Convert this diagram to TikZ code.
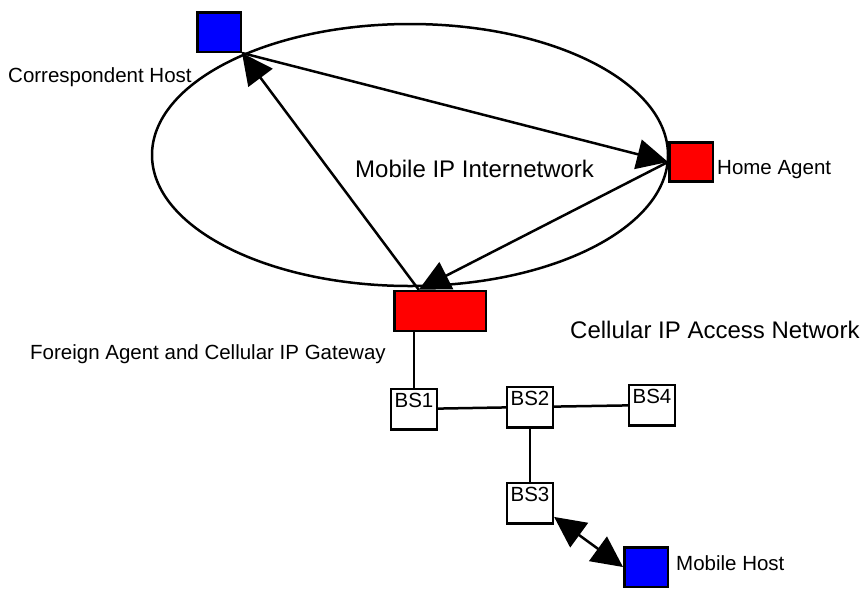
\documentclass[tikz,border=0pt]{standalone}
\usepackage{fontspec}
\setmainfont{Liberation Sans}
\usepackage{tikz}
\usetikzlibrary{arrows.meta}
\definecolor{hostblue}{rgb}{0,0,1}
\definecolor{agentred}{rgb}{1,0,0}
\pgfdeclarelayer{edgelayer}
\pgfdeclarelayer{nodelayer}
\pgfsetlayers{edgelayer,nodelayer,main}
\tikzstyle{host}=[rectangle,fill=hostblue,draw=black,line width=2.5pt,minimum width=43.5pt,minimum height=39.5pt,inner sep=0pt]
\tikzstyle{agent}=[rectangle,fill=agentred,draw=black,line width=2.5pt,minimum width=43.5pt,minimum height=39pt,inner sep=0pt]
\tikzstyle{gateway}=[agent,minimum width=91.5pt,minimum height=40pt]
\tikzstyle{station}=[rectangle,fill=white,draw=black,line width=2.5pt,minimum width=43.5pt,minimum height=39.5pt,inner sep=3.5pt,text height=15pt,text depth=18.5pt,font=\fontsize{20.5}{24}\selectfont]
\tikzstyle{caption}=[inner sep=0pt,font=\fontsize{20.5}{24}\selectfont]
\tikzstyle{bigcaption}=[inner sep=0pt,font=\fontsize{24}{28}\selectfont]
\tikzstyle{link}=[-,line width=2.5pt]
\tikzstyle{inarrow}=[-{Triangle[length=31pt,width=30pt]},line width=2.5pt]
\tikzstyle{bothways}=[{Triangle[length=31pt,width=30pt]}-{Triangle[length=31pt,width=30pt]},line width=2.5pt]

\begin{document}
\begin{tikzpicture}[x=1pt,y=-1pt]
	\useasboundingbox (0,0) rectangle (867,590);
	\begin{pgfonlayer}{nodelayer}
		\node [style=host] (0) at (219, 32) {};
		\node [style=agent] (1) at (691, 162) {};
		\node [style=gateway] (2) at (440, 311) {};
		\node [style=station] (3) at (414, 409) {BS1};
		\node [style=station] (4) at (530, 407) {BS2};
		\node [style=station] (5) at (652, 405) {BS4};
		\node [style=station] (6) at (530, 503) {BS3};
		\node [style=host] (7) at (646, 567) {};
		\node [style=caption, anchor=base west] (8) at (8, 82) {Correspondent Host};
		\node [style=caption, anchor=base west] (9) at (717, 174) {Home Agent};
		\node [style=bigcaption, anchor=base west] (10) at (355, 177) {Mobile IP Internetwork};
		\node [style=bigcaption, anchor=base west] (11) at (570, 338) {Cellular IP Access Network};
		\node [style=caption, anchor=base west] (12) at (30, 359) {Foreign Agent and Cellular IP Gateway};
		\node [style=caption, anchor=base west] (13) at (676, 570) {Mobile Host};
	\end{pgfonlayer}
	\begin{pgfonlayer}{edgelayer}
		\draw [line width=2.5pt] (410, 155) ellipse [x radius=258pt, y radius=131pt];
		\draw [style=inarrow] (0.south east) to (1.west);
		\draw [style=inarrow] (1.west) to (2.135);
		\draw [style=inarrow] (2.135) to (0.south east);
		\draw [style=link] (3.north) to (3.north |- 2.south);
		\draw [style=link] (3) to (4);
		\draw [style=link] (4) to (5);
		\draw [style=link] (4) to (6);
		\draw [style=bothways] (6.-30) to (7.west);
	\end{pgfonlayer}
\end{tikzpicture}
\end{document}
